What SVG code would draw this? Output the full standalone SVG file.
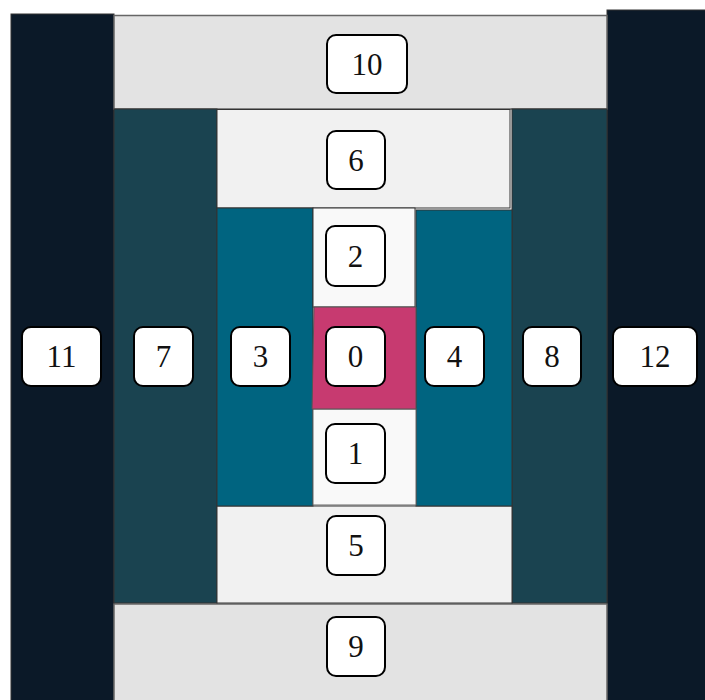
<svg xmlns="http://www.w3.org/2000/svg" width="705" height="700" viewBox="0 0 705 700">
<style>
.r{stroke:#333;stroke-width:1}
.lb{fill:#fff;stroke:#000;stroke-width:2}
.t{font-family:"Liberation Serif","DejaVu Serif",serif;font-size:31px;fill:#111;text-anchor:middle}
</style>
<rect width="705" height="700" fill="#fff"/>
<g id="n11"><rect class="r" x="11" y="14" width="103" height="690" fill="#0b1928"/><rect class="lb" x="22" y="327" width="79" height="59" rx="9"/><text class="t" x="61.5" y="367">11</text></g>
<g id="n12"><rect class="r" x="607" y="10" width="102" height="694" fill="#0b1928"/><rect class="lb" x="613" y="327" width="84" height="59" rx="9"/><text class="t" x="655" y="367">12</text></g>
<g id="n10"><rect x="114" y="15.5" width="493" height="93.5" fill="#e3e3e3" stroke="#666" stroke-width="1.5"/><rect class="lb" x="327" y="35" width="80" height="58" rx="9"/><text class="t" x="367" y="75">10</text></g>
<g id="n9"><rect x="114" y="604" width="493" height="100" fill="#e3e3e3" stroke="#666" stroke-width="1.5"/><rect class="lb" x="327" y="617" width="58" height="59" rx="9"/><text class="t" x="356" y="657">9</text></g>
<g id="n7"><rect class="r" x="114" y="109" width="103" height="494" fill="#1a4350"/><rect class="lb" x="134" y="327" width="59" height="59" rx="9"/><text class="t" x="163.5" y="367">7</text></g>
<g id="n8"><rect class="r" x="512" y="109" width="95" height="494" fill="#1a4350"/><rect class="lb" x="523" y="327" width="58" height="59" rx="9"/><text class="t" x="552" y="367">8</text></g>
<g id="n6"><rect class="r" x="217" y="109.5" width="293" height="98.5" fill="#f1f1f1"/><rect class="lb" x="327" y="131" width="58" height="58" rx="9"/><text class="t" x="356" y="171">6</text></g>
<g id="n5"><rect class="r" x="217" y="506" width="295" height="97" fill="#f1f1f1"/><rect class="lb" x="327" y="516" width="58" height="59" rx="9"/><text class="t" x="356" y="556">5</text></g>
<g id="n3"><rect class="r" x="217" y="208" width="96" height="298" fill="#006480"/><rect class="lb" x="231" y="327" width="59" height="59" rx="9"/><text class="t" x="260.5" y="367">3</text></g>
<g id="n4"><rect class="r" x="416" y="210" width="96" height="296" fill="#006480"/><rect class="lb" x="425" y="327" width="59" height="59" rx="9"/><text class="t" x="454.5" y="367">4</text></g>
<g id="n2"><rect class="r" x="313" y="208" width="102" height="99" fill="#f9f9f9" stroke="#666"/><rect class="lb" x="326" y="226" width="59" height="60" rx="9"/><text class="t" x="355.5" y="267">2</text></g>
<g id="n1"><rect x="313" y="409" width="103" height="96" fill="#f9f9f9" stroke="#666"/><rect class="lb" x="326" y="424" width="59" height="59" rx="9"/><text class="t" x="355.5" y="464">1</text></g>
<g id="n0"><polygon points="314,307 416,307 416,409 312,409" fill="#c73a70" stroke="#555" stroke-width="1"/><rect class="lb" x="326" y="327" width="59" height="59" rx="9"/><text class="t" x="355.5" y="367">0</text></g>
<g id="connectors"/>
</svg>
